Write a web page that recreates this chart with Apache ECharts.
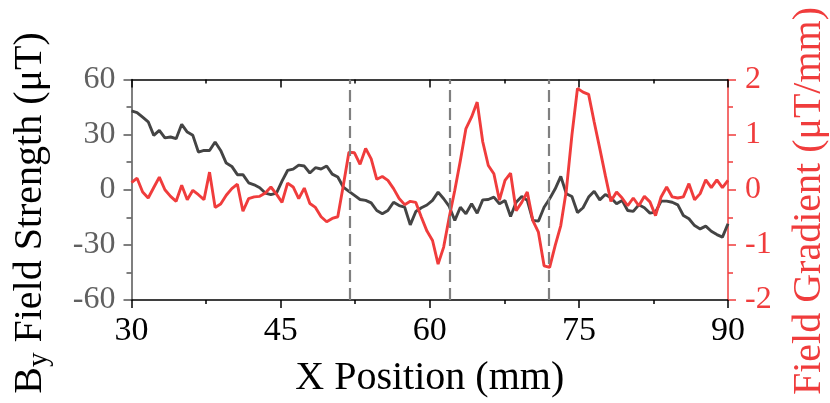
<!DOCTYPE html>
<html>
<head>
<meta charset="utf-8">
<script src="https://cdn.jsdelivr.net/npm/echarts@6/dist/echarts.min.js"></script>
<style>
html,body{margin:0;padding:0;background:#fff;}
#chart{width:830px;height:403px;}
</style>
</head>
<body>
<div id="chart"></div>
<script>
// X positions (mm) of the scan samples
const xPositions = [30,30.56,31.12,31.68,32.24,32.80,33.36,33.93,34.49,35.05,35.61,36.17,36.73,37.29,37.85,38.41,38.97,39.53,40.09,40.65,41.21,41.78,42.34,42.90,43.46,44.02,44.58,45.14,45.70,46.26,46.82,47.38,47.94,48.50,49.07,49.63,50.19,50.75,51.31,51.87,52.43,52.99,53.55,54.11,54.67,55.23,55.79,56.36,56.92,57.48,58.04,58.60,59.16,59.72,60.28,60.84,61.40,61.96,62.52,63.08,63.64,64.21,64.77,65.33,65.89,66.45,67.01,67.57,68.13,68.69,69.25,69.81,70.37,70.93,71.50,72.06,72.62,73.18,73.74,74.30,74.86,75.42,75.98,76.54,77.10,77.66,78.22,78.79,79.35,79.91,80.47,81.03,81.59,82.15,82.71,83.27,83.83,84.39,84.95,85.51,86.07,86.64,87.20,87.76,88.32,88.88,89.44,90.00];

// B_y field strength (uT)
const fieldStrength = [42.9,42,39.5,37,29.6,32.3,28.2,28.7,27.8,35.6,31.4,29.6,20.5,21.4,21.4,26,21.4,14.5,12.7,8.2,8.2,3.8,2.7,1.1,-1.8,-2.6,-1.8,4.7,10.5,11.2,13.4,12.9,9.1,12,11.3,12.9,8.5,6.9,1.4,-0.9,-3.1,-5.3,-5.8,-7.1,-11.3,-13.1,-11.3,-6.8,-8.6,-9.5,-19.1,-11.8,-9.8,-8.3,-5.8,-1.3,-4.9,-9.1,-16.7,-9.5,-13.1,-7.6,-12.8,-5.5,-5.3,-4,-7.6,-5.8,-14.6,-6.8,-3.7,-5.8,-16.7,-17.1,-9.5,-4.9,0.5,7.3,-2.2,-3.7,-12.4,-9.8,-4,-0.8,-5.5,-2.6,-4.4,-7.6,-5.8,-11.3,-11.8,-8.2,-9.8,-12.7,-12.2,-6.2,-6.2,-6.8,-8.2,-14,-15.8,-19.5,-21.3,-19.8,-22.6,-24.4,-25.8,-18.5];

// Field gradient (uT/mm)
const fieldGradient = [0.13,0.21,-0.04,-0.15,0.04,0.23,0.0,-0.12,-0.21,0.08,-0.18,-0.01,-0.09,-0.18,0.32,-0.32,-0.26,-0.1,0.02,0.1,-0.39,-0.16,-0.13,-0.12,-0.06,0.05,-0.08,-0.23,0.12,0.05,-0.16,0.03,-0.25,-0.32,-0.49,-0.58,-0.52,-0.49,0.08,0.68,0.67,0.46,0.75,0.56,0.19,0.24,0.17,0.02,-0.16,-0.27,-0.21,-0.23,-0.5,-0.75,-0.92,-1.35,-1.04,-0.5,-0.01,0.53,1.11,1.32,1.59,0.87,0.44,0.29,-0.19,0.17,0.3,-0.38,-0.23,-0.04,-0.56,-0.77,-1.38,-1.41,-1.01,-0.65,-0.01,0.99,1.84,1.77,1.73,1.23,0.75,0.26,-0.21,-0.04,-0.15,-0.29,-0.15,-0.29,-0.12,-0.22,-0.47,-0.13,0.05,-0.13,-0.15,-0.13,0.11,-0.18,-0.07,0.18,0.04,0.18,0.04,0.17];

// Marked positions (mm)
const markedPositions = [52, 62, 72];

// Axis settings
const xRange = [30, 90], xStep = 15;
const leftRange = [-60, 60], leftStep = 30;
const rightRange = [-2, 2], rightStep = 1;

// Left title pieces: main letter, subscript, rest
const leftTitleMain = 'B';
const leftTitleSub = 'y';
const leftTitleRest = ' Field Strength (μT)';
const rightTitle = 'Field Gradient (μT/mm)';

const FONT = '"Liberation Serif", "Times New Roman", serif';
const RED = '#f03c3c';
const DARK = '#444444';
const TITLE_SIZE = 40, SUB_SIZE = 29;

// measure text widths for the composed subscript title
const mctx = document.createElement('canvas').getContext('2d');
function textW(t, size) { mctx.font = size + 'px ' + FONT; return mctx.measureText(t).width; }
const wMain = textW(leftTitleMain, TITLE_SIZE);
const wSub = textW(leftTitleSub, SUB_SIZE);
const wRest = textW(leftTitleRest, TITLE_SIZE);
const wTotal = wMain + wSub + wRest;
const startX = -wTotal / 2;

const chart = echarts.init(document.getElementById('chart'), null, {renderer: 'canvas'});

const tickStyle = (c) => ({color: c, width: 1.5});

chart.setOption({
  animation: false,
  backgroundColor: '#fff',
  grid: {left: 131.5, right: 102, top: 79.5, bottom: 103, containLabel: false},
  xAxis: [
    {
      type: 'value', min: xRange[0], max: xRange[1], interval: xStep, position: 'bottom',
      axisLine: {show: true, onZero: false, lineStyle: tickStyle('#000')},
      axisTick: {show: true, inside: false, length: 8, lineStyle: tickStyle('#000')},
      minorTick: {show: true, splitNumber: 2, length: 4, lineStyle: tickStyle('#000')},
      axisLabel: {fontFamily: FONT, fontSize: 34, color: '#000', margin: 14},
      splitLine: {show: false}, minorSplitLine: {show: false},
      name: 'X Position (mm)', nameLocation: 'middle', nameGap: 58,
      nameTextStyle: {fontFamily: FONT, fontSize: 40, color: '#000'}
    },
    {
      type: 'value', min: xRange[0], max: xRange[1], interval: xStep, position: 'top',
      axisLine: {show: true, onZero: false, lineStyle: tickStyle('#000')},
      axisTick: {show: true, inside: true, length: 8, lineStyle: tickStyle('#000')},
      minorTick: {show: true, splitNumber: 2, length: 4, lineStyle: tickStyle('#000')},
      axisLabel: {show: false},
      splitLine: {show: false}, minorSplitLine: {show: false}
    }
  ],
  yAxis: [
    {
      type: 'value', min: leftRange[0], max: leftRange[1], interval: leftStep, position: 'left',
      axisLine: {show: true, onZero: false, lineStyle: tickStyle('#555')},
      axisTick: {show: true, inside: false, length: 8, lineStyle: tickStyle('#555')},
      minorTick: {show: true, splitNumber: 2, length: 5, lineStyle: tickStyle('#555')},
      axisLabel: {fontFamily: FONT, fontSize: 32, color: '#606060', margin: 16},
      splitLine: {show: false}, minorSplitLine: {show: false}
    },
    {
      type: 'value', min: rightRange[0], max: rightRange[1], interval: rightStep, position: 'right',
      axisLine: {show: true, onZero: false, lineStyle: tickStyle(RED)},
      axisTick: {show: true, inside: false, length: 8, lineStyle: tickStyle(RED)},
      minorTick: {show: true, splitNumber: 2, length: 5, lineStyle: tickStyle(RED)},
      axisLabel: {fontFamily: FONT, fontSize: 32, color: RED, margin: 17},
      splitLine: {show: false}, minorSplitLine: {show: false}
    }
  ],
  graphic: [
    {
      type: 'group', x: 30, y: 213, rotation: Math.PI / 2, silent: true,
      children: [
        {type: 'text', x: startX, y: 0,
         style: {text: leftTitleMain, font: TITLE_SIZE + 'px ' + FONT, fill: '#000', align: 'left', verticalAlign: 'middle'}},
        {type: 'text', x: startX + wMain, y: 9,
         style: {text: leftTitleSub, font: SUB_SIZE + 'px ' + FONT, fill: '#000', align: 'left', verticalAlign: 'middle'}},
        {type: 'text', x: startX + wMain + wSub, y: 0,
         style: {text: leftTitleRest, font: TITLE_SIZE + 'px ' + FONT, fill: '#000', align: 'left', verticalAlign: 'middle'}}
      ]
    },
    {
      type: 'text', x: 809, y: 201, rotation: Math.PI / 2, silent: true,
      style: {
        text: rightTitle,
        font: TITLE_SIZE + 'px ' + FONT, fill: RED,
        align: 'center', verticalAlign: 'middle'
      }
    }
  ],
  series: [
    {
      name: 'By', type: 'line', xAxisIndex: 0, yAxisIndex: 0,
      data: xPositions.map((x, i) => [x, fieldStrength[i]]),
      symbol: 'none', showSymbol: false, z: 2,
      lineStyle: {color: DARK, width: 2.9}, itemStyle: {color: DARK},
      markLine: {
        silent: true, symbol: ['none', 'none'], label: {show: false},
        lineStyle: {type: [12, 6], color: '#808080', width: 2.2},
        emphasis: {disabled: true},
        data: markedPositions.map(v => ({xAxis: v}))
      }
    },
    {
      name: 'Gradient', type: 'line', xAxisIndex: 0, yAxisIndex: 1,
      data: xPositions.map((x, i) => [x, fieldGradient[i]]),
      symbol: 'none', showSymbol: false, z: 3,
      lineStyle: {color: RED, width: 2.9}, itemStyle: {color: RED}
    }
  ]
});
</script>
</body>
</html>
